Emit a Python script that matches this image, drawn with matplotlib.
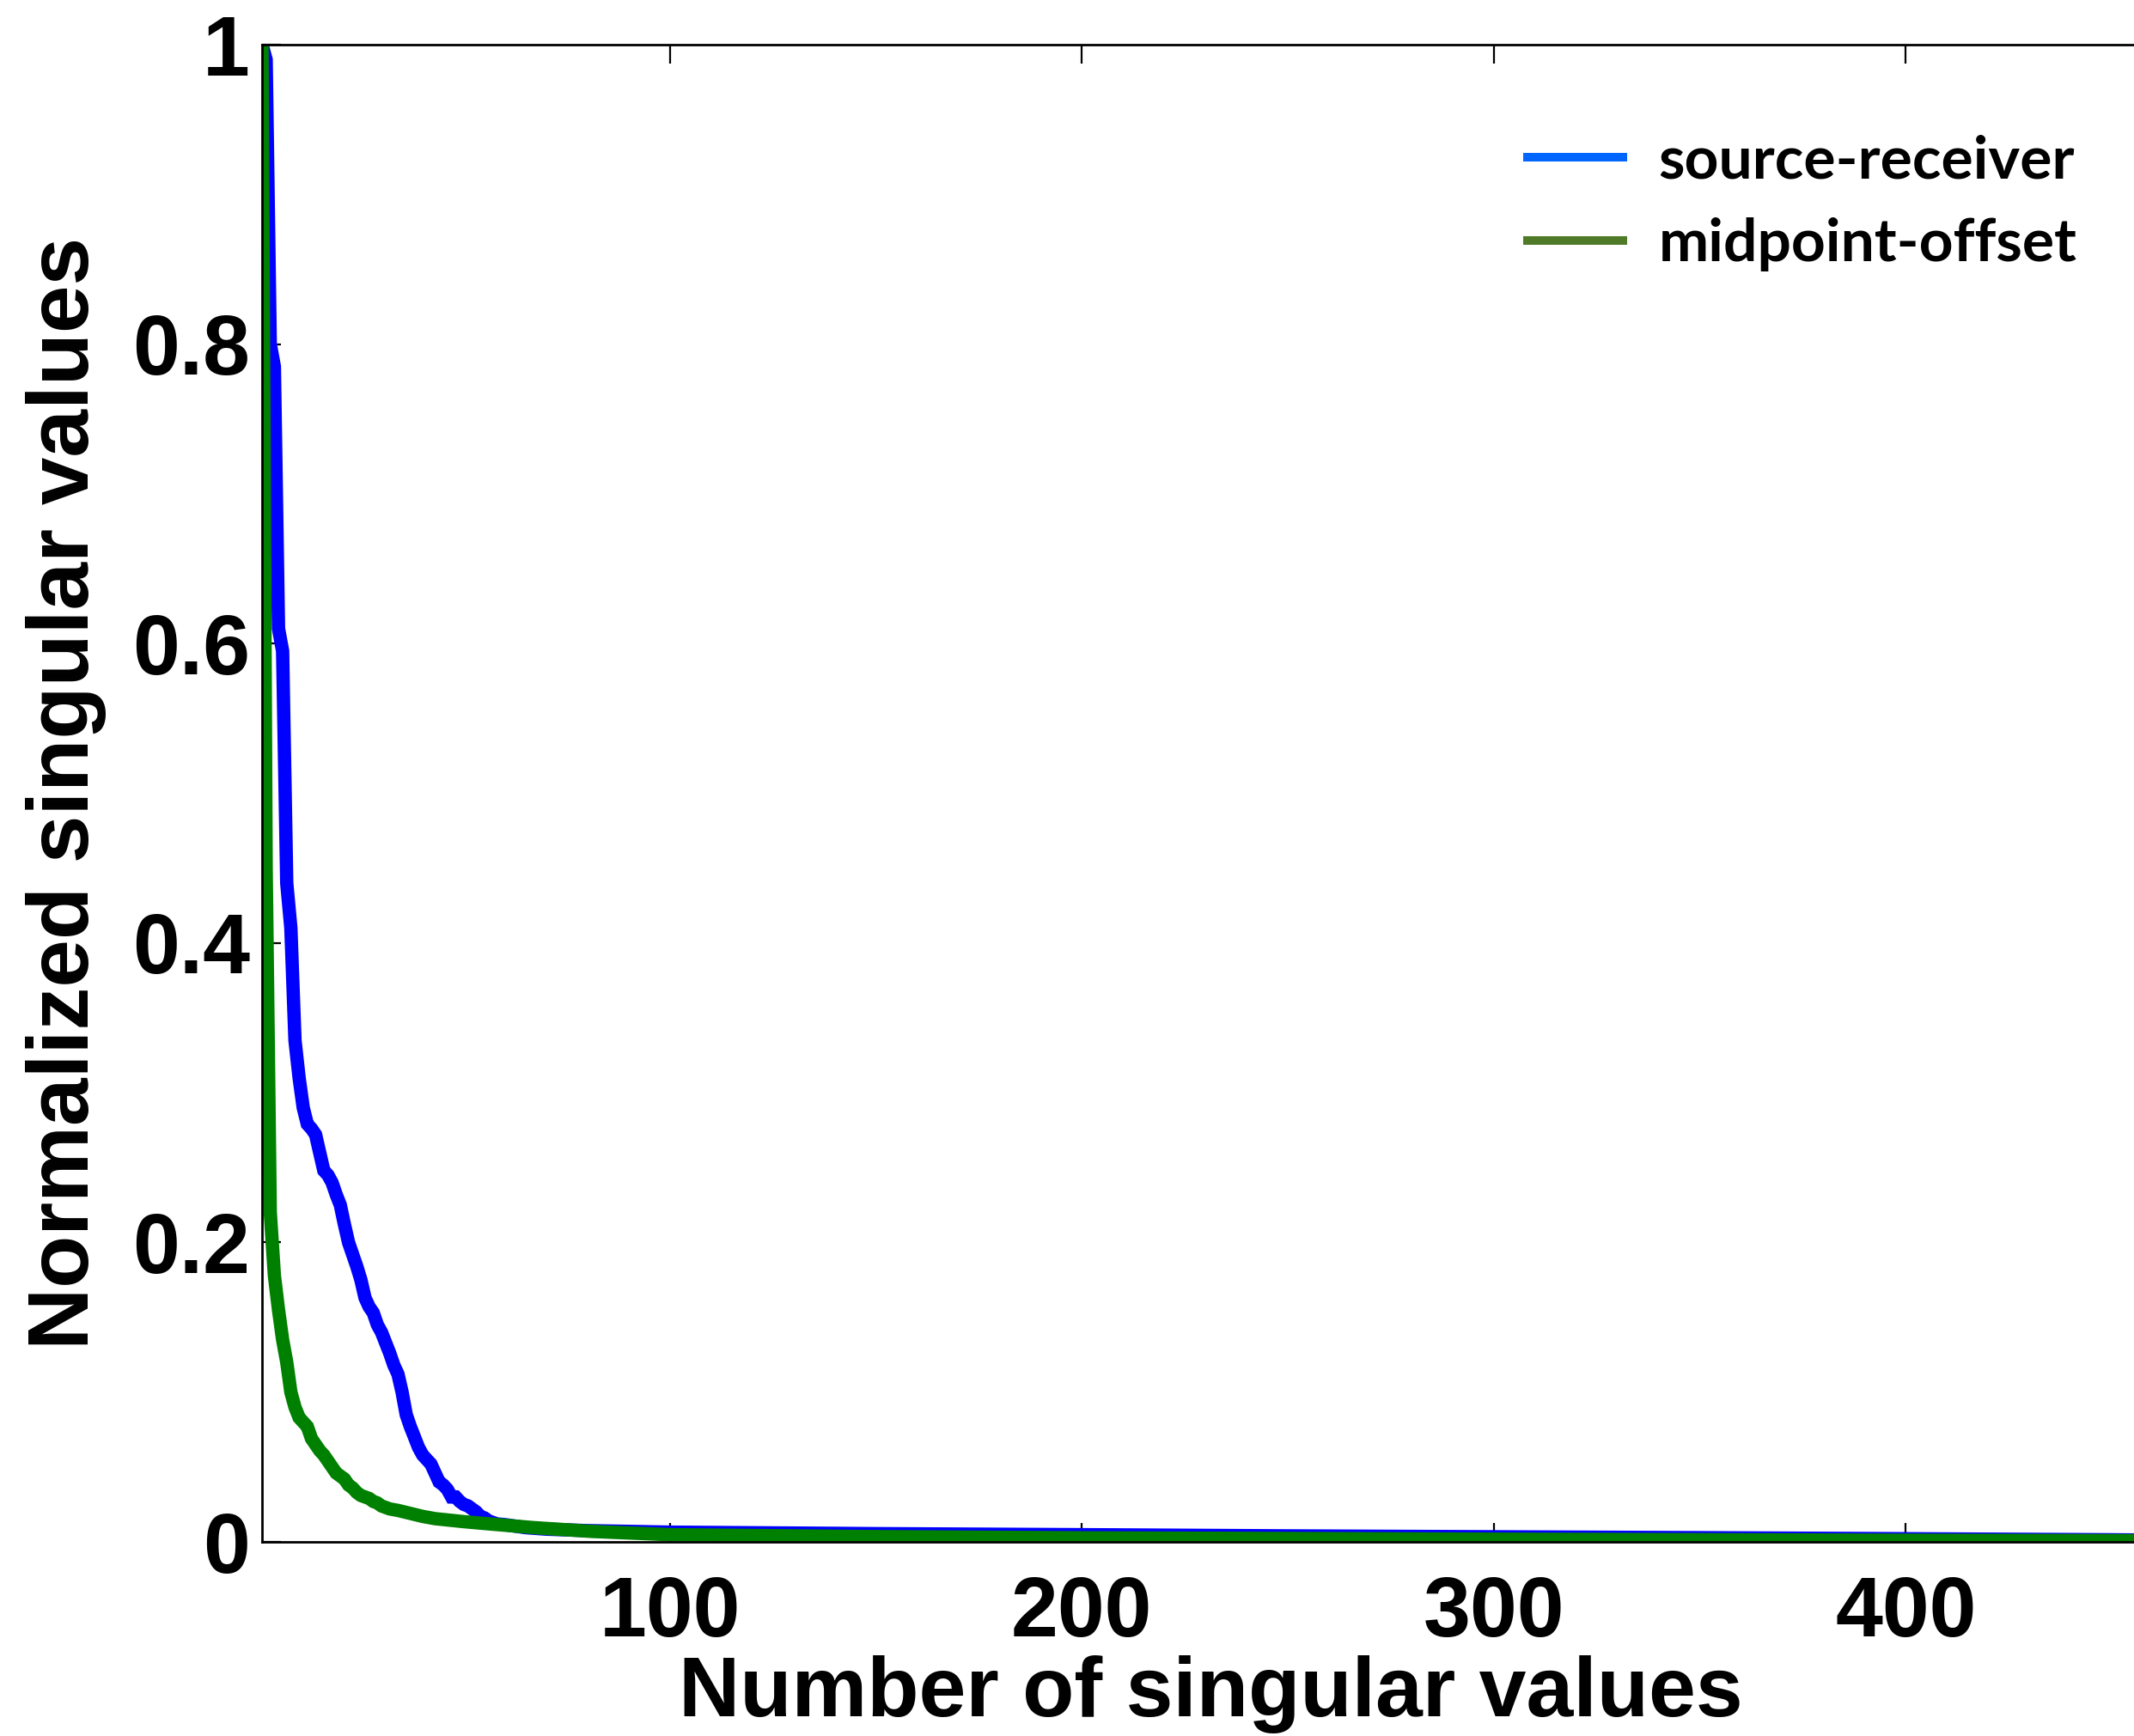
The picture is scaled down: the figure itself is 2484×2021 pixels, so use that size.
import matplotlib
matplotlib.use("Agg")
import matplotlib.pyplot as plt
from matplotlib.lines import Line2D

# singular value spectra
sr_x = [1, 2, 3, 4, 5, 6, 7, 8, 9, 10, 11, 12, 13, 14, 15, 16, 17, 18, 19, 20,
        21, 22, 23, 24, 25, 26, 27, 28, 29, 30, 31, 32, 33, 34, 35, 36, 37, 38, 39, 40,
        41, 42, 43, 44, 45, 46, 47, 48, 49, 50, 51, 52, 53, 54, 55, 56, 58, 60, 65, 70,
        80, 100, 150, 200, 250, 300, 350, 400, 450, 460]
sr_y = [1.0, 0.99, 0.80, 0.785, 0.61, 0.595, 0.44, 0.41, 0.335, 0.31, 0.29, 0.279, 0.276, 0.272, 0.26, 0.248, 0.245, 0.24, 0.232, 0.225,
        0.212, 0.20, 0.192, 0.184, 0.175, 0.163, 0.157, 0.153, 0.145, 0.14, 0.133, 0.126, 0.118, 0.112, 0.10, 0.085, 0.077, 0.07, 0.063, 0.058,
        0.055, 0.052, 0.046, 0.04, 0.038, 0.035, 0.03, 0.03, 0.027, 0.025, 0.024, 0.022, 0.02, 0.017, 0.016, 0.014, 0.012, 0.0115, 0.0095, 0.0085,
        0.0075, 0.0065, 0.0055, 0.0048, 0.004, 0.0034, 0.0028, 0.0021, 0.0014, 0.0012]

mo_x = [1, 2, 3, 4, 5, 6, 7, 8, 9, 10, 11, 12, 13, 14, 15, 16, 17, 18, 19, 20,
        21, 22, 23, 24, 25, 26, 27, 28, 29, 30, 32, 34, 37, 40, 43, 50, 57, 67, 81, 100,
        150, 200, 300, 400, 460]
mo_y = [1.0, 0.45, 0.22, 0.178, 0.155, 0.135, 0.12, 0.10, 0.09, 0.083, 0.08, 0.077, 0.069, 0.065, 0.061, 0.058, 0.054, 0.05, 0.046, 0.044,
        0.042, 0.038, 0.036, 0.033, 0.031, 0.030, 0.029, 0.027, 0.026, 0.024, 0.022, 0.021, 0.019, 0.017, 0.0155, 0.0135, 0.0118, 0.0095, 0.007, 0.0048,
        0.0035, 0.0027, 0.0018, 0.0011, 0.0008]

labels = ["source-receiver", "midpoint-offset"]
legend_colors = ["#0066FF", "#4F7A28"]
x_ticks = [100, 200, 300, 400]
y_ticks = [0, 0.2, 0.4, 0.6, 0.8, 1.0]
y_ticklabels = ["0", "0.2", "0.4", "0.6", "0.8", "1"]

fig = plt.figure(figsize=(12.42, 10.105), dpi=200)
ax = fig.add_axes([305 / 2484, 226 / 2021, 1 - 305 / 2484, 1743 / 2021])

ax.plot(sr_x, sr_y, color="#0000FF", linewidth=5.6, solid_joinstyle="miter")
ax.plot(mo_x, mo_y, color="#008000", linewidth=5.6, solid_joinstyle="miter")

ax.set_xlim(1, 455.4)
ax.set_ylim(0, 1)
ax.spines["right"].set_visible(False)
for s in ["left", "bottom", "top"]:
    ax.spines[s].set_linewidth(1.0)

tick_font = dict(family="Liberation Sans", weight="bold", size=35.5)
ax.set_xticks(x_ticks)
ax.set_xticklabels([str(t) for t in x_ticks], fontdict=tick_font)
ax.set_yticks(y_ticks)
ax.set_yticklabels(y_ticklabels, fontdict=tick_font)
ax.tick_params(axis="both", direction="in", length=8, width=0.8)
ax.tick_params(axis="x", top=True, pad=14)
ax.tick_params(axis="y", right=False, pad=5)

ax.set_xlabel("Number of singular values", family="Liberation Sans", weight="bold", size=35.5)
ax.set_ylabel("Normalized singular values", family="Liberation Sans", weight="bold", size=36)
ax.xaxis.set_label_coords(0.507, -0.076)
ax.yaxis.set_label_coords(-0.083, 0.5)

handles = [Line2D([], [], color=c, linewidth=3.6) for c in legend_colors]
fig.legend(handles, labels, loc="upper left", bbox_to_anchor=(1743 / 2484, 1 - 122 / 2021),
           frameon=False, borderpad=0, handlelength=1.6, handletextpad=0.6,
           labelspacing=0.48, prop=dict(family="Lato", weight="bold", size=25))

fig.savefig("out.png", dpi=200, facecolor="white")
